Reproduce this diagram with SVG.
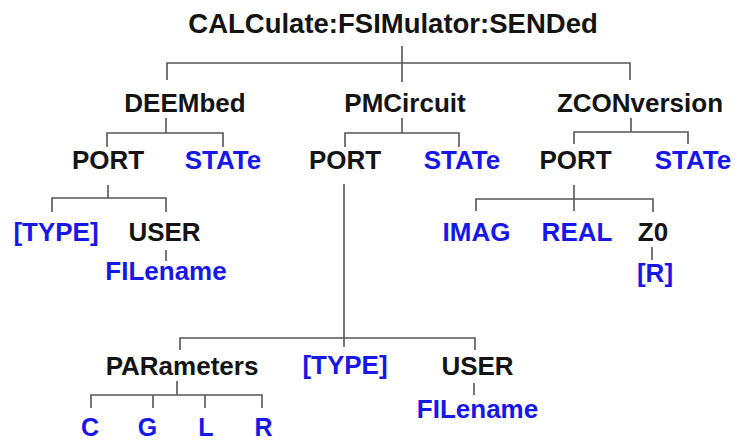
<svg xmlns="http://www.w3.org/2000/svg" width="735" height="440" viewBox="0 0 735 440">
<style>
text{font-family:"Liberation Sans",Arial,sans-serif;font-weight:bold;font-size:26px;text-anchor:middle}
.k{fill:#141414}
.b{fill:#1717e8}
.t{font-size:27.5px}
.s{font-size:25px}
#connectors path{fill:none;stroke:#555;stroke-width:1.6}
</style>
<rect width="735" height="440" fill="#fff"/>
<g id="connectors">
<path d="M402 46V82M167 80V63H630V80"/>
<path d="M166 118V133M107 147V133H223V147"/>
<path d="M402 118V133M345 147V133H459V147"/>
<path d="M631 118V132M574 144V132H688V144"/>
<path d="M108 185V198M52 212V198H166V212"/>
<path d="M166 250V261"/>
<path d="M574 185V211M476 211V199H653V212"/>
<path d="M652 247V260"/>
<path d="M344 184V347M180 350V338H475V350"/>
<path d="M474 383V395"/>
<path d="M177 381V395M91 408V395H262V408M153 395V408M205 395V408"/>
</g>
<g id="n-root"><text class="k t" x="393" y="33">CALCulate:FSIMulator:SENDed</text></g>
<g id="n-deembed"><text class="k" x="185" y="112">DEEMbed</text></g>
<g id="n-pmcircuit"><text class="k" x="405" y="112">PMCircuit</text></g>
<g id="n-zconversion"><text class="k" x="640" y="112">ZCONversion</text></g>
<g id="n-deembed-port"><text class="k" x="108" y="169">PORT</text></g>
<g id="n-deembed-state"><text class="b" x="223" y="169">STATe</text></g>
<g id="n-pmc-port"><text class="k" x="345" y="169">PORT</text></g>
<g id="n-pmc-state"><text class="b" x="462" y="169">STATe</text></g>
<g id="n-zcon-port"><text class="k" x="575.5" y="169">PORT</text></g>
<g id="n-zcon-state"><text class="b" x="693" y="169">STATe</text></g>
<g id="n-deembed-type"><text class="b" x="56" y="241">[TYPE]</text></g>
<g id="n-deembed-user"><text class="k" x="164.5" y="241">USER</text></g>
<g id="n-deembed-filename"><text class="b" x="166" y="280">FILename</text></g>
<g id="n-imag"><text class="b" x="476.5" y="241">IMAG</text></g>
<g id="n-real"><text class="b" x="577" y="241">REAL</text></g>
<g id="n-z0"><text class="k" x="653" y="241">Z0</text></g>
<g id="n-z0-r"><text class="b" x="655" y="282">[R]</text></g>
<g id="n-parameters"><text class="k" x="182" y="375">PARameters</text></g>
<g id="n-pmc-type"><text class="b" x="345" y="374">[TYPE]</text></g>
<g id="n-pmc-user"><text class="k" x="477.5" y="375">USER</text></g>
<g id="n-pmc-filename"><text class="b" x="477.5" y="418">FILename</text></g>
<g id="n-c"><text class="b s" x="90" y="436">C</text></g>
<g id="n-g"><text class="b s" x="147.5" y="436">G</text></g>
<g id="n-l"><text class="b s" x="206" y="436">L</text></g>
<g id="n-r"><text class="b s" x="263.5" y="436">R</text></g>
</svg>
